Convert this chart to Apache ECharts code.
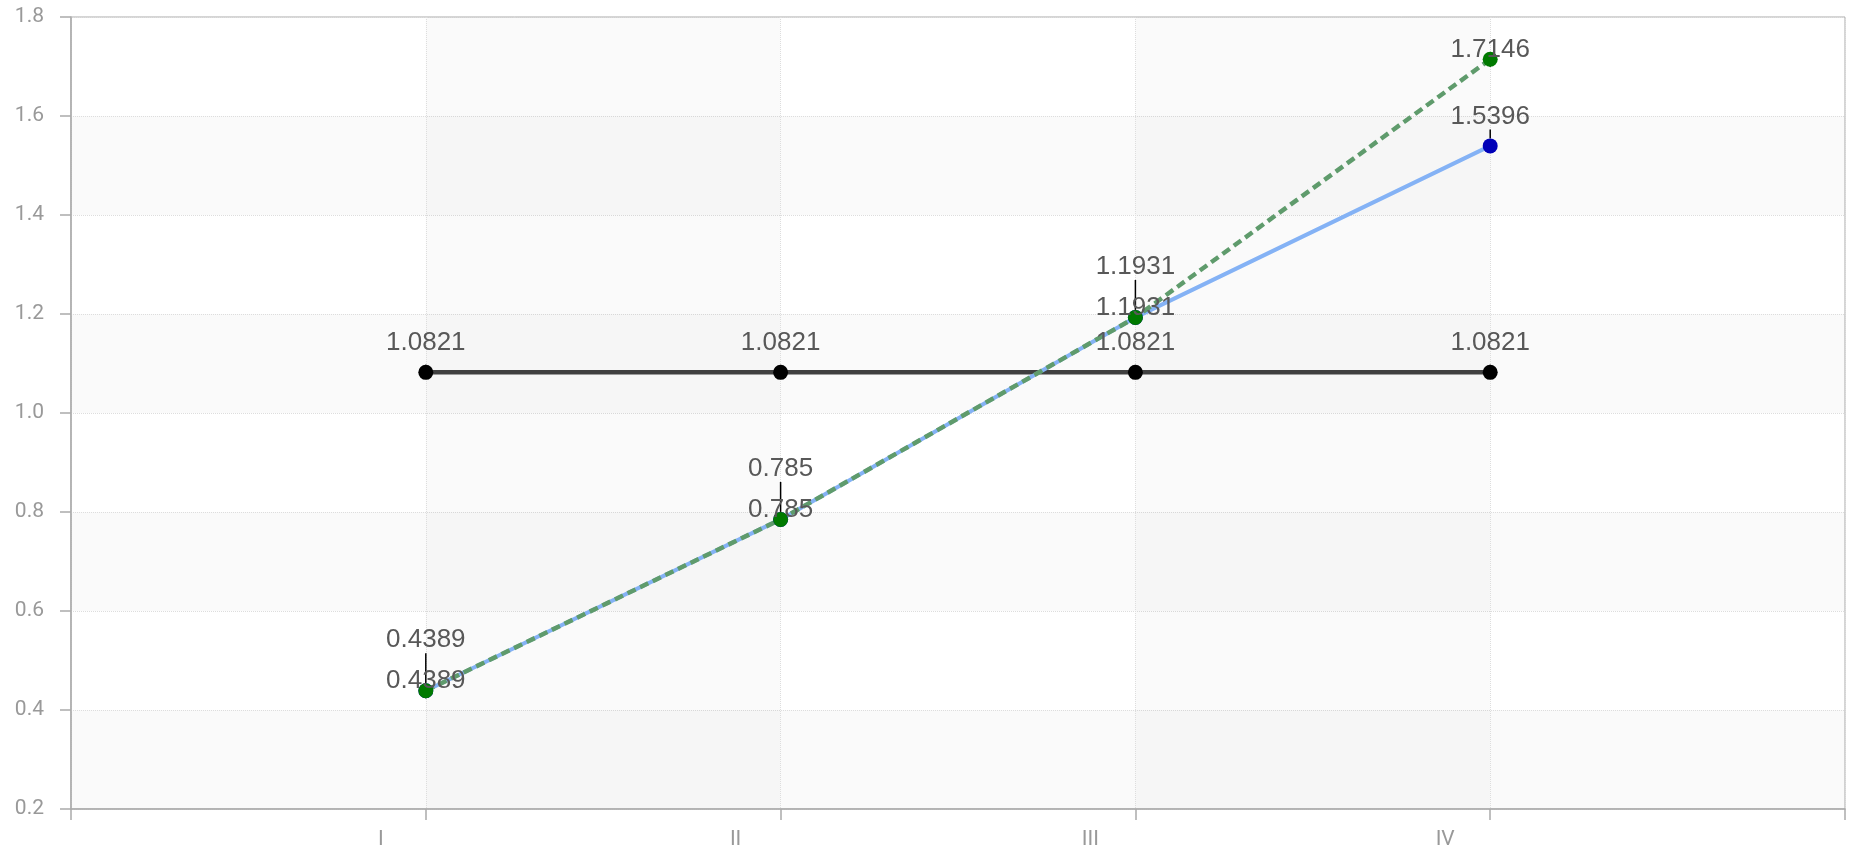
<!DOCTYPE html>
<html>
<head>
<meta charset="utf-8">
<title>chart</title>
<script src="https://cdn.jsdelivr.net/npm/echarts@6/dist/echarts.min.js"></script>
<style>
    html, body { margin: 0; padding: 0; background: #fff; }
    #main { width: 1849px; height: 854px; }
</style>
</head>
<body>
<div id="main"></div>
<script>
    // 数据
    const categories = ['I', 'II', 'III', 'IV']
    const baseValues = [1.0821, 1.0821, 1.0821, 1.0821]   // 黑色水平线
    const blueValues = [0.4389, 0.785, 1.1931, 1.5396]    // 蓝色实线
    const greenValues = [0.4389, 0.785, 1.1931, 1.7146]   // 绿色虚线
    const yTicks = { min: 0.2, max: 1.8, step: 0.2 }

    // 把类别放到数值轴的 1..n 位置上
    const toPairs = vals => vals.map((v, i) => [i + 1, v])

    const chart = echarts.init(document.getElementById('main'))

    const labelStyle = {
        show: true,
        position: 'top',
        distance: 9,
        fontSize: 26,
        color: '#585858',
        fontFamily: 'Liberation Sans, Arial, sans-serif'
    }
    const labelLine = { show: true, lineStyle: { color: '#000', width: 1.5 } }

    // 标签错开：蓝绿重合的点，蓝色标签上移；绿色标签整体下移
    const blueLayout = params => (blueValues[params.dataIndex] === greenValues[params.dataIndex] ? { dy: -21 } : {})
    const greenLayout = () => ({ dy: 20 })

    const option = {
        animation: false,
        grid: {
            left: 71,
            right: 4,
            top: 17,
            bottom: 45,
            show: true,
            borderColor: '#aaa',
            borderWidth: 1
        },
        xAxis: {
            type: 'value',
            min: 0,
            max: categories.length + 1,
            interval: 1,
            axisLine: { lineStyle: { color: '#aaa', width: 1.5 } },
            axisTick: { length: 11, lineStyle: { color: '#aaa', width: 1.5 } },
            axisLabel: {
                color: '#999',
                fontSize: 21,
                fontFamily: 'Roboto, sans-serif',
                margin: 20,
                padding: [0, 90, 0, 0],
                formatter: v => categories[v - 1] || ''
            },
            splitLine: { show: true, lineStyle: { color: '#ddd', type: 'dotted' } },
            splitArea: { show: true, areaStyle: { color: ['rgba(0,0,0,0)', 'rgba(0,0,0,0.02)'] } }
        },
        yAxis: {
            type: 'value',
            min: yTicks.min,
            max: yTicks.max,
            interval: yTicks.step,
            axisLine: { show: true, lineStyle: { color: '#aaa', width: 1.5 } },
            axisTick: { show: true, length: 11, lineStyle: { color: '#aaa', width: 1.5 } },
            axisLabel: {
                color: '#999',
                fontSize: 21,
                fontFamily: 'Roboto, sans-serif',
                margin: 27,
                formatter: v => v.toFixed(1)
            },
            splitLine: { show: true, lineStyle: { color: '#ddd', type: 'dotted' } },
            splitArea: { show: true, areaStyle: { color: ['rgba(0,0,0,0.02)', 'rgba(0,0,0,0)'] } }
        },
        series: [
            {
                type: 'line',
                data: toPairs(baseValues),
                symbol: 'circle',
                symbolSize: 15,
                lineStyle: { color: '#404040', width: 4.5 },
                itemStyle: { color: '#000' },
                label: labelStyle,
                labelLine: labelLine
            },
            {
                type: 'line',
                data: toPairs(blueValues),
                symbol: 'circle',
                symbolSize: 15,
                lineStyle: { color: '#84b2f5', width: 4 },
                itemStyle: { color: '#0000b8' },
                label: labelStyle,
                labelLine: labelLine,
                labelLayout: blueLayout
            },
            {
                type: 'line',
                data: toPairs(greenValues),
                symbol: 'circle',
                symbolSize: 15,
                lineStyle: { color: '#5f9b6c', width: 4.5, type: [9, 5] },
                itemStyle: { color: '#007a00' },
                label: labelStyle,
                labelLine: labelLine,
                labelLayout: greenLayout
            }
        ]
    }

    chart.setOption(option)
</script>
</body>
</html>
